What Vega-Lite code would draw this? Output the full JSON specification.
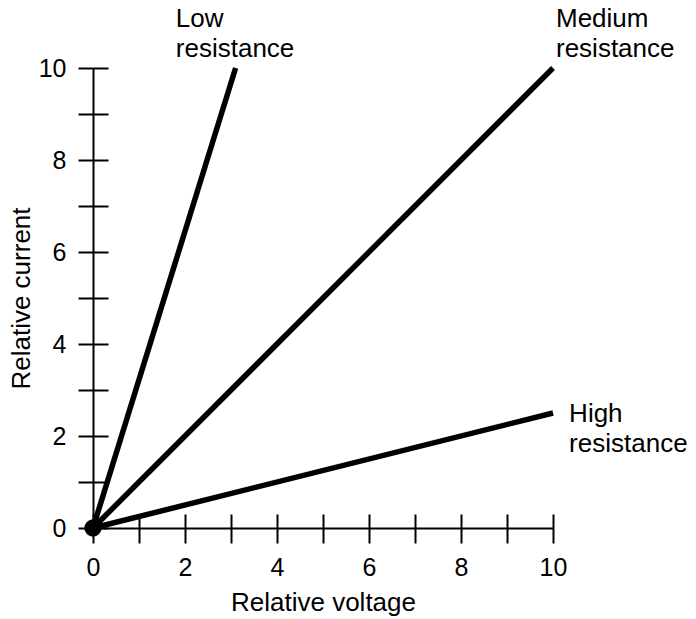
{
  "$schema": "https://vega.github.io/schema/vega-lite/v6.json",
  "width": 460,
  "height": 460,
  "autosize": {"type": "none"},
  "padding": {"left": 93, "top": 68, "right": 143, "bottom": 91},
  "background": "white",
  "config": {
    "view": {"stroke": null},
    "font": "Liberation Sans",
    "axis": {
      "grid": false,
      "domainColor": "black",
      "domainWidth": 2,
      "tickColor": "black",
      "tickWidth": 2,
      "labelColor": "black",
      "labelFont": "Liberation Sans",
      "labelFontSize": 25,
      "labelOverlap": false,
      "labelFlush": false,
      "titleColor": "black",
      "titleFont": "Liberation Sans",
      "titleFontSize": 26,
      "titleFontWeight": "normal"
    }
  },
  "layer": [
    {
      "data": {
        "values": [
          {"series": "Low", "voltage": 0, "current": 0},
          {"series": "Low", "voltage": 3.1, "current": 10},
          {"series": "Medium", "voltage": 0, "current": 0},
          {"series": "Medium", "voltage": 10, "current": 10},
          {"series": "High", "voltage": 0, "current": 0},
          {"series": "High", "voltage": 10, "current": 2.5}
        ]
      },
      "mark": {"type": "line", "color": "black", "strokeWidth": 5.5, "strokeCap": "butt"},
      "encoding": {
        "detail": {"field": "series", "type": "nominal"},
        "x": {
          "field": "voltage", "type": "quantitative",
          "scale": {"domain": [0, 10], "nice": false, "zero": true},
          "axis": {
            "orient": "bottom",
            "values": [0, 1, 2, 3, 4, 5, 6, 7, 8, 9, 10],
            "labelExpr": "datum.value % 2 === 0 ? datum.label : ''",
            "tickSize": 15,
            "labelPadding": 12,
            "title": "Relative voltage",
            "titlePadding": 9
          }
        },
        "y": {
          "field": "current", "type": "quantitative",
          "scale": {"domain": [0, 10], "nice": false, "zero": true},
          "axis": {
            "orient": "left",
            "values": [0, 1, 2, 3, 4, 5, 6, 7, 8, 9, 10],
            "labelExpr": "datum.value % 2 === 0 ? datum.label : ''",
            "tickSize": 15,
            "labelPadding": 12,
            "title": "Relative current",
            "titlePadding": 4
          }
        }
      }
    },
    {
      "data": {"values": [{"voltage": 0, "current": 0}]},
      "mark": {"type": "circle", "color": "black", "opacity": 1, "size": 300},
      "encoding": {
        "x": {
          "field": "voltage", "type": "quantitative",
          "axis": {
            "orient": "top",
            "offset": -460,
            "values": [0, 1, 2, 3, 4, 5, 6, 7, 8, 9, 10],
            "tickSize": 14,
            "labels": false,
            "domain": false,
            "title": null
          }
        },
        "y": {
          "field": "current", "type": "quantitative",
          "axis": {
            "orient": "right",
            "offset": -460,
            "values": [0, 1, 2, 3, 4, 5, 6, 7, 8, 9, 10],
            "tickSize": 15,
            "labels": false,
            "domain": false,
            "title": null
          }
        }
      }
    },
    {
      "data": {
        "values": [
          {"label": "Low\nresistance", "voltage": 1.8, "current": 10.89},
          {"label": "Medium\nresistance", "voltage": 10.065, "current": 10.89},
          {"label": "High\nresistance", "voltage": 10.35, "current": 2.3}
        ]
      },
      "mark": {"type": "text", "align": "left", "baseline": "alphabetic", "fontSize": 26, "lineHeight": 30, "lineBreak": "\n", "color": "black", "font": "Liberation Sans"},
      "encoding": {
        "x": {"field": "voltage", "type": "quantitative", "axis": null},
        "y": {"field": "current", "type": "quantitative", "axis": null},
        "text": {"field": "label", "type": "nominal"}
      }
    }
  ],
  "resolve": {"axis": {"x": "independent", "y": "independent"}}
}
